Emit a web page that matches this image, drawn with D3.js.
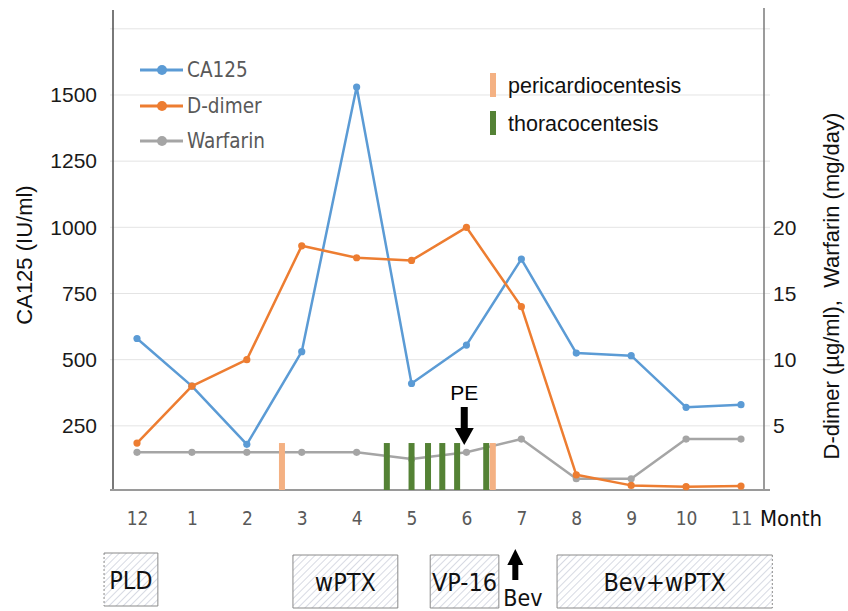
<!DOCTYPE html>
<html><head><meta charset="utf-8">
<script src="https://cdn.jsdelivr.net/npm/d3@7"></script>
<style>body{margin:0;background:#fff}</style>
</head><body>
<svg id="c" width="848" height="611"></svg>
<script>
// ---- data ----
const months = ["12","1","2","3","4","5","6","7","8","9","10","11"];
const ca125 = [580,400,180,530,1530,410,555,880,525,515,320,330];
const dDimer = [3.7,8.0,10.0,18.6,17.7,17.5,20.0,14.0,1.3,0.5,0.4,0.45];
const warfarin = [3,3,3,3,3,2.5,3,4,1,1,4,4];
const leftTicks = [250,500,750,1000,1250,1500];
const rightTicks = [5,10,15,20];
const gridValues = [250,500,750,1000,1250,1500,1750];
// event timings as fractional month index (0 = month 12)
const pericardioAt = [2.64, 6.48];
const thoracoAt = [4.55, 5.0, 5.3, 5.56, 5.83, 6.36];
const procedureLevel = 3.7; // marker height on right axis
const peAt = 5.96;
const bevAt = 6.89;
const treatNames = ["PLD","wPTX","VP-16","Bev+wPTX"];
const treatStart = [-0.6, 2.84, 5.34, 7.65];
const treatEnd = [0.38, 4.75, 6.59, 11.57];

// ---- layout ----
const svg = d3.select("#c");
const FONT = "'Liberation Sans', Arial, sans-serif";
const NARROW = "'Liberation Sans Narrow','Arial Narrow','DejaVu Sans Condensed',sans-serif";
const L = 113, R = 764, B = 490;
const x = d3.scalePoint().domain(months).range([137, 741]);
const xi = d3.scaleLinear().domain([0, 11]).range([x(months[0]), x(months[11])]);
const yL = d3.scaleLinear().domain([0, 1750]).range([492, 28.8]);
const yR = d3.scaleLinear().domain([0, 35]).range([492, 28.8]);

// hatch pattern
const defs = svg.append("defs");
const pat = defs.append("pattern").attr("id","hatch").attr("patternUnits","userSpaceOnUse")
  .attr("width",5).attr("height",5).attr("patternTransform","rotate(45)");
pat.append("rect").attr("width",5).attr("height",5).attr("fill","#fff");
pat.append("line").attr("x1",0).attr("y1",0).attr("x2",0).attr("y2",5)
  .attr("stroke","#c6cbd8").attr("stroke-width",1.4);

// gridlines
svg.append("g").selectAll("line").data(gridValues).join("line")
  .attr("x1", L-3).attr("x2", R+6)
  .attr("y1", d=>yL(d)).attr("y2", d=>yL(d))
  .attr("stroke","#e4e4e4").attr("stroke-width",1);

// axes lines
svg.append("line").attr("x1",L).attr("x2",L).attr("y1",10).attr("y2",B).attr("stroke","#4d4d4d").attr("stroke-width",1.5);
svg.append("line").attr("x1",R).attr("x2",R).attr("y1",8).attr("y2",B).attr("stroke","#7a7a7a").attr("stroke-width",1.5);
svg.append("line").attr("x1",L-3).attr("x2",R+6).attr("y1",B).attr("y2",B).attr("stroke","#9a9a9a").attr("stroke-width",2);

// left ticks
const gl = svg.append("g").attr("transform",`translate(${L},0)`)
  .call(d3.axisLeft(yL).tickValues(leftTicks).tickSize(0).tickPadding(16).tickFormat(d3.format("d")));
gl.select(".domain").remove();
gl.selectAll("text").attr("font-family",FONT).attr("font-size",21).attr("fill","#1a1a1a");

// right ticks
const gr = svg.append("g").attr("transform",`translate(${R},0)`)
  .call(d3.axisRight(yR).tickValues(rightTicks).tickSize(0).tickPadding(9));
gr.select(".domain").remove();
gr.selectAll("text").attr("font-family",FONT).attr("font-size",21).attr("fill","#1a1a1a");

// bottom ticks
const gb = svg.append("g").attr("transform",`translate(0,${B})`)
  .call(d3.axisBottom(x).tickSize(0).tickPadding(22));
gb.select(".domain").remove();
gb.selectAll("text").attr("font-family",NARROW).attr("font-size",19).attr("fill","#595959");
svg.append("text").attr("x",760).attr("y",526).attr("font-family",NARROW).attr("font-size",22)
  .attr("fill","#111").text("Month");

// axis titles
svg.append("text").attr("transform","translate(32,255) rotate(-90)").attr("text-anchor","middle")
  .attr("font-family",FONT).attr("font-size",22).attr("fill","#111").text("CA125 (IU/ml)");
svg.append("text").attr("transform","translate(839,286) rotate(-90)").attr("text-anchor","middle")
  .attr("font-family",FONT).attr("font-size",22).attr("fill","#111")
  .attr("xml:space","preserve").style("white-space","pre").text("D-dimer (\u00b5g/ml),  Warfarin (mg/day)");

// series
const series = [
  {name:"CA125", vals:ca125, y:yL, color:"#5B9BD5"},
  {name:"D-dimer", vals:dDimer, y:yR, color:"#ED7D31"},
  {name:"Warfarin", vals:warfarin, y:yR, color:"#A5A5A5"}
];
const drawOrder = [series[2], series[0], series[1]];
drawOrder.forEach(s=>{
  const line = d3.line().x((d,i)=>x(months[i])).y(d=>s.y(d));
  svg.append("path").datum(s.vals).attr("d",line).attr("fill","none")
    .attr("stroke",s.color).attr("stroke-width",2.5).attr("stroke-linejoin","round");
  svg.append("g").selectAll("circle").data(s.vals).join("circle")
    .attr("cx",(d,i)=>x(months[i])).attr("cy",d=>s.y(d)).attr("r",3.6).attr("fill",s.color);
});

// procedure markers
svg.append("g").selectAll("rect").data(thoracoAt).join("rect")
  .attr("x",d=>xi(d)-3).attr("width",6)
  .attr("y",yR(procedureLevel)).attr("height",B-yR(procedureLevel))
  .attr("fill","#548235");
svg.append("g").selectAll("rect").data(pericardioAt).join("rect")
  .attr("x",d=>xi(d)-3).attr("width",6)
  .attr("y",yR(procedureLevel)).attr("height",B-yR(procedureLevel))
  .attr("fill","#F4B183");

// PE arrow
const peX = xi(peAt);
svg.append("text").attr("x",peX).attr("y",400).attr("text-anchor","middle")
  .attr("font-family",FONT).attr("font-size",21).attr("fill","#000").text("PE");
svg.append("rect").attr("x",peX-3.5).attr("y",407).attr("width",7).attr("height",24).attr("fill","#000");
svg.append("path").attr("d",`M${peX-9.5},428 L${peX+9.5},428 L${peX},445 Z`).attr("fill","#000");

// legend (series)
series.forEach((s,i)=>{
  const ly = [70,106,141][i];
  svg.append("line").attr("x1",140).attr("x2",183).attr("y1",ly).attr("y2",ly)
    .attr("stroke",s.color).attr("stroke-width",3);
  svg.append("circle").attr("cx",162).attr("cy",ly).attr("r",5).attr("fill",s.color);
  svg.append("text").attr("x",187).attr("y",ly+7).attr("font-family",NARROW).attr("font-size",20.5)
    .attr("fill","#595959").text(s.name);
});

// legend (procedures)
[["pericardiocentesis","#F4B183",73],["thoracocentesis","#548235",111]].forEach(([t,c,yy])=>{
  svg.append("rect").attr("x",490).attr("y",yy).attr("width",6).attr("height",24).attr("fill",c);
  svg.append("text").attr("x",508).attr("y",yy+20).attr("font-family",FONT).attr("font-size",21.5)
    .attr("fill","#111").text(t);
});

// treatment boxes
treatNames.forEach((n,i)=>{
  const x0 = xi(treatStart[i]), x1 = xi(treatEnd[i]);
  const top = i===0 ? 553 : 555, bot = i===0 ? 606 : 608;
  svg.append("rect").attr("x",x0).attr("y",top).attr("width",x1-x0).attr("height",bot-top)
    .attr("fill","url(#hatch)");
  const st = "#8a8a8a";
  svg.append("line").attr("x1",x0).attr("x2",x1).attr("y1",top).attr("y2",top).attr("stroke",st);
  svg.append("line").attr("x1",x0).attr("x2",x1).attr("y1",bot).attr("y2",bot).attr("stroke",st);
  svg.append("line").attr("x1",x0).attr("x2",x0).attr("y1",top).attr("y2",bot).attr("stroke",st)
    .attr("stroke-dasharray", i===0 ? "2,2" : null);
  svg.append("line").attr("x1",x1).attr("x2",x1).attr("y1",top).attr("y2",bot).attr("stroke",st)
    .attr("stroke-dasharray", i===treatNames.length-1 ? "2,2" : null);
  svg.append("text").attr("x",(x0+x1)/2).attr("y",(top+bot)/2+9).attr("text-anchor","middle")
    .attr("font-family",NARROW).attr("font-size",25).attr("fill","#111").text(n);
});

// Bev arrow
const bevX = xi(bevAt);
svg.append("path").attr("d",`M${bevX-8},565 L${bevX+8},565 L${bevX},549 Z`).attr("fill","#000");
svg.append("rect").attr("x",bevX-3).attr("y",563).attr("width",6).attr("height",17).attr("fill","#000");
svg.append("text").attr("x",bevX-12).attr("y",606).attr("font-family",NARROW).attr("font-size",23)
  .attr("fill","#111").text("Bev");
</script>
</body></html>
